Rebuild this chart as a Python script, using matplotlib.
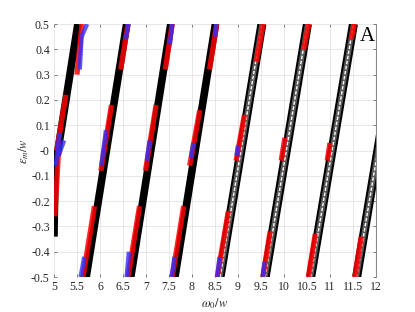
import numpy as np
import matplotlib
matplotlib.use("Agg")
import matplotlib.pyplot as plt

plt.rcParams["font.family"] = ["Liberation Serif", "DejaVu Serif"]
plt.rcParams["mathtext.fontset"] = "stix"
plt.rcParams["axes.unicode_minus"] = False

# black tracks (dense, solid): segment end points
blk_x0 = [5.00, 5.07, 5.70, 6.67, 7.63]
blk_y0 = [-0.34, -0.02, -0.50, -0.50, -0.50]
blk_x1 = [5.03, 5.52, 6.58, 7.54, 8.51]
blk_y1 = [0.00, 0.50, 0.50, 0.50, 0.50]

# black tracks drawn with open squares (hollow look)
hol_x0 = [8.61, 9.59, 10.58, 11.58]
hol_y0 = [-0.50, -0.50, -0.50, -0.50]
hol_x1 = [9.52, 10.51, 11.51, 12.50]
hol_y1 = [0.50, 0.50, 0.50, 0.50]

# red points
red_x0 = [5.02, 5.06, 5.50, 5.63, 6.02, 6.45, 6.61, 6.99, 7.42, 7.57, 7.95, 8.38,
          8.55, 8.96, 9.40, 9.54, 9.94, 10.43, 10.53, 10.94, 11.46, 11.54]
red_y0 = [-0.26, 0.00, 0.30, -0.50, -0.08, 0.32, -0.50, -0.08, 0.32, -0.50, -0.06, 0.32,
          -0.50, -0.04, 0.35, -0.50, -0.04, 0.40, -0.50, -0.04, 0.44, -0.50]
red_x1 = [5.10, 5.26, 5.61, 5.88, 6.25, 6.61, 6.86, 7.22, 7.57, 7.82, 8.17, 8.54,
          8.79, 9.14, 9.55, 9.70, 10.02, 10.54, 10.68, 11.00, 11.53, 11.68]
red_y1 = [0.00, 0.22, 0.50, -0.22, 0.18, 0.50, -0.22, 0.18, 0.50, -0.22, 0.16, 0.50,
          -0.24, 0.14, 0.50, -0.32, 0.05, 0.50, -0.33, 0.03, 0.50, -0.34]

# blue points
blu_x0 = [5.60, 5.56, 5.04, 5.10, 6.56, 6.03, 5.58, 7.52, 7.02, 6.58, 8.50, 7.98,
          7.56, 8.97, 8.55, 9.54]
blu_y0 = [0.45, 0.32, -0.06, -0.02, 0.44, -0.06, -0.50, 0.42, -0.04, -0.50, 0.45, -0.03,
          -0.50, -0.02, -0.50, -0.50]
blu_x1 = [5.72, 5.60, 5.12, 5.22, 6.62, 6.13, 5.66, 7.57, 7.08, 6.63, 8.53, 8.03,
          7.62, 9.00, 8.60, 9.58]
blu_y1 = [0.50, 0.45, 0.07, 0.04, 0.50, 0.08, -0.42, 0.50, 0.04, -0.40, 0.50, 0.03,
          -0.42, 0.02, -0.42, -0.44]

xticks = np.arange(5, 12.01, 0.5)
yticks = np.round(np.arange(-0.5, 0.51, 0.1), 1)

fig = plt.figure(figsize=(4.15, 3.12), dpi=100)
ax = fig.add_axes([0.130, 0.112, 0.776, 0.811])

for i in range(len(blk_x0)):
    ax.plot([blk_x0[i], blk_x1[i]], [blk_y0[i], blk_y1[i]], color="k", linewidth=5.5, solid_capstyle="butt")
for i in range(len(hol_x0)):
    xs = [hol_x0[i], hol_x1[i]]
    ys = [hol_y0[i], hol_y1[i]]
    ax.plot(xs, ys, color="k", linewidth=6.5, solid_capstyle="butt")
    ax.plot(xs, ys, color="0.35", linewidth=3.6, solid_capstyle="butt")
    ax.plot(xs, ys, color="w", linewidth=1.0, linestyle=(0, (2.5, 1.2)))
for i in range(len(red_x0)):
    ax.plot([red_x0[i], red_x1[i]], [red_y0[i], red_y1[i]], color="r", linewidth=3.8,
            solid_capstyle="butt", alpha=0.85)
for i in range(len(blu_x0)):
    ax.plot([blu_x0[i], blu_x1[i]], [blu_y0[i], blu_y1[i]], color="#3030ff", linewidth=3.2,
            solid_capstyle="butt", alpha=0.8)

ax.set_xlim(5, 12)
ax.set_ylim(-0.5, 0.5)
ax.set_xticks(xticks)
ax.set_xticklabels(["%g" % t for t in xticks])
ax.set_yticks(yticks)
ax.set_yticklabels(["%g" % t for t in yticks])
ax.grid(True, color="#e3e3e3", linewidth=0.6)
ax.set_axisbelow(True)
for s in ["left", "top", "bottom"]:
    ax.spines[s].set_visible(False)
ax.spines["right"].set_color("0.55")
ax.spines["right"].set_linewidth(0.8)
ax.tick_params(direction="in", length=2.5, width=0.6, color="0.4", labelsize=8.5, labelcolor="0.15",
               top=True, right=True, pad=3)

ax.set_xlabel(r"$\omega_0/w$", fontsize=9, color="0.15", labelpad=2)
ax.set_ylabel(r"$\epsilon_m/w$", fontsize=9, color="0.15", labelpad=0)
ax.text(0.997, 0.99, "A", transform=ax.transAxes, ha="right", va="top", fontsize=15)

fig.savefig("out.png", dpi=100)
